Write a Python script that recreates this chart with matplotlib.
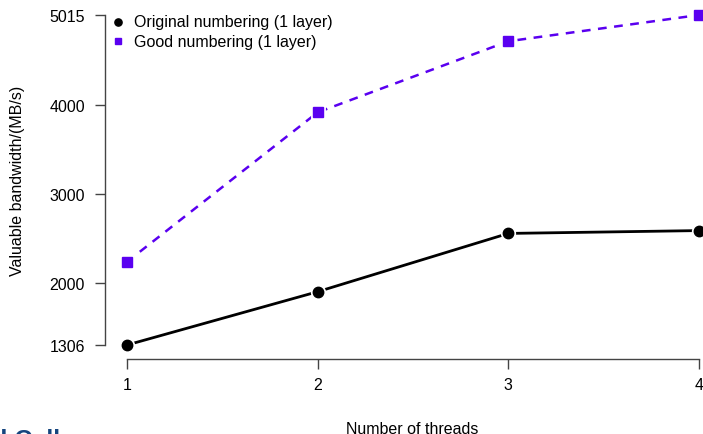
import matplotlib
matplotlib.use("Agg")
import matplotlib.pyplot as plt

threads = [1, 2, 3, 4]
original = [1306, 1905, 2560, 2592]
good = [2241, 3921, 4720, 5015]
yticks = [1306, 2000, 3000, 4000, 5015]
xticks = [1, 2, 3, 4]
labels = ["Original numbering (1 layer)", "Good numbering (1 layer)"]

plt.rcParams['font.family'] = ['Liberation Sans', 'DejaVu Sans']

W, H = 703, 435
fig = plt.figure(figsize=(W / 100, H / 100), dpi=100)
ax = fig.add_axes([127 / W, 1 - 346 / H, 572 / W, 330 / H])
ax.set_xlim(1, 4)
ax.set_ylim(1306, 5015)

purple = '#5a00f0'
# lines with gaps around markers (R type="b" style)
ax.plot(threads, original, color='black', lw=2, marker='o', ms=7.5,
        mec='white', mew=3.5, mfc='black', clip_on=False, zorder=3)
ax.plot(threads, original, color='black', lw=0, marker='o', ms=7.5,
        mfc='black', mec='black', clip_on=False, zorder=4)
ax.plot(threads, good, color=purple, lw=1.8, ls=(0, (3.5, 3)), marker='s', ms=6.5,
        mec='white', mew=3.5, mfc=purple, clip_on=False, zorder=3)
ax.plot(threads, good, color=purple, lw=0, marker='s', ms=6.5,
        mfc=purple, mec=purple, clip_on=False, zorder=4)

for s in ['top', 'right']:
    ax.spines[s].set_visible(False)
ax.spines['left'].set_position(('outward', 22 * 0.72))
ax.spines['bottom'].set_position(('outward', 14 * 0.72))
ax.spines['left'].set_bounds(1306, 5015)
ax.spines['bottom'].set_bounds(1, 4)
for s in ['left', 'bottom']:
    ax.spines[s].set_color('#444444')
    ax.spines[s].set_linewidth(1.0)

ax.set_xticks(xticks)
ax.set_yticks(yticks)
ax.set_xticklabels([str(x) for x in xticks])
ax.set_yticklabels([str(y) for y in yticks])
ax.tick_params(axis='y', length=7, width=1, color='#444444', labelsize=11.5, pad=7.5)
ax.tick_params(axis='x', length=7, width=1, color='#444444', labelsize=11.5, pad=6)

fig.text(18 / W, 1 - 181 / H, "Valuable bandwidth/(MB/s)", rotation=90,
         ha='center', va='center', fontsize=11.5)
fig.text(412 / W, 1 - 434 / H, "Number of threads", ha='center', va='baseline',
         fontsize=11.5)

# legend
fig.lines.append(plt.Line2D([118 / W], [1 - 22.5 / H], marker='o', ms=5.2, color='black',
                            lw=0, transform=fig.transFigure))
fig.lines.append(plt.Line2D([118 / W], [1 - 42.3 / H], marker='s', ms=4.5, color=purple,
                            lw=0, transform=fig.transFigure))
fig.text(134 / W, 1 - 22.5 / H, labels[0], ha='left', va='center', fontsize=11.5)
fig.text(134 / W, 1 - 42.3 / H, labels[1], ha='left', va='center', fontsize=11.5)

# clipped text fragment at bottom left
fig.text(-8 / W, 1 - 429 / H, "d Cell", ha='left', va='top', fontsize=18,
         fontweight='bold', color='#15457e')

fig.savefig("out.png", dpi=100)
